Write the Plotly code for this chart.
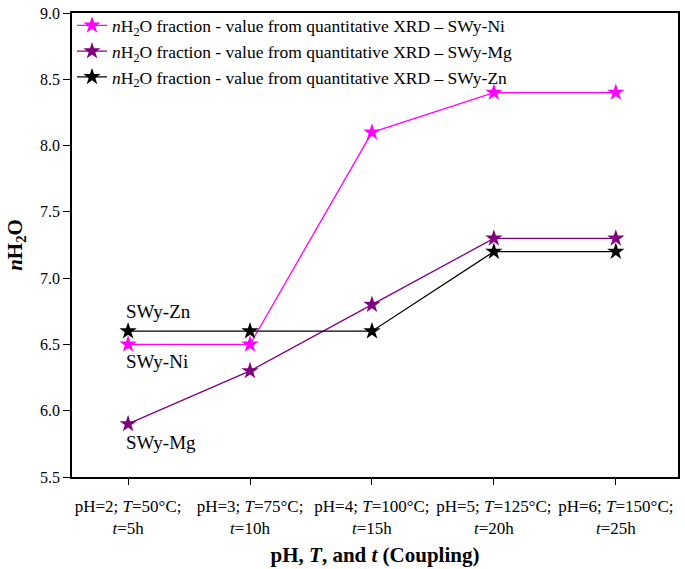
import plotly.graph_objects as go

categories = [
    "pH=2; <i>T</i>=50°C;<br><i>t</i>=5h",
    "pH=3; <i>T</i>=75°C;<br><i>t</i>=10h",
    "pH=4; <i>T</i>=100°C;<br><i>t</i>=15h",
    "pH=5; <i>T</i>=125°C;<br><i>t</i>=20h",
    "pH=6; <i>T</i>=150°C;<br><i>t</i>=25h",
]
ni_values = [6.5, 6.5, 8.1, 8.4, 8.4]
mg_values = [5.9, 6.3, 6.8, 7.3, 7.3]
zn_values = [6.6, 6.6, 6.6, 7.2, 7.2]

series = [
    ("<i>n</i>H<sub>2</sub>O fraction - value from quantitative XRD – SWy-Ni", ni_values, "#FF00FF"),
    ("<i>n</i>H<sub>2</sub>O fraction - value from quantitative XRD – SWy-Mg", mg_values, "#800080"),
    ("<i>n</i>H<sub>2</sub>O fraction - value from quantitative XRD – SWy-Zn", zn_values, "#000000"),
]

FONT = "Liberation Serif"

fig = go.Figure()
for name, vals, color in series:
    fig.add_trace(go.Scatter(
        x=list(range(len(categories))), y=vals,
        mode="lines+markers",
        name=name,
        line=dict(color=color, width=1.3),
        marker=dict(symbol="star", size=13, color=color),
    ))

# etiquetas de serie junto a la primera categoría
for text, y in [("SWy-Zn", 6.75), ("SWy-Ni", 6.37), ("SWy-Mg", 5.76)]:
    fig.add_annotation(x=0, y=y, text=text, showarrow=False, xanchor="left",
                       xshift=-4, font=dict(size=19, color="black", family=FONT))

fig.update_layout(
    width=685, height=569,
    margin=dict(l=72, r=5, t=8, b=92),
    plot_bgcolor="white", paper_bgcolor="white",
    font=dict(family=FONT, size=15, color="black"),
    showlegend=True,
    legend=dict(x=0.0, y=1.012, xanchor="left", yanchor="top",
                bgcolor="rgba(0,0,0,0)", font=dict(size=17.5, family=FONT, color="black"),
                itemsizing="trace", tracegroupgap=0),
    xaxis=dict(
        range=[-0.46, 4.51],
        tickmode="array", tickvals=list(range(len(categories))), ticktext=categories,
        ticks="outside", ticklen=6, tickcolor="black", ticklabelstandoff=7,
        showline=True, linecolor="black", linewidth=1.5, mirror=True,
        showgrid=False, zeroline=False,
        tickfont=dict(size=17, family=FONT, color="black"),
        title=dict(text="<b>pH, <i>T</i>, and <i>t</i> (Coupling)</b>",
                   font=dict(size=21, family=FONT, color="black"), standoff=10),
    ),
    yaxis=dict(
        range=[5.5, 9.0], dtick=0.5, tickformat=".1f",
        ticks="outside", ticklen=7, tickcolor="black",
        showline=True, linecolor="black", linewidth=1.5, mirror=True,
        showgrid=False, zeroline=False, ticklabeloverflow="allow",
        tickfont=dict(size=16, family=FONT, color="black"),
        title=dict(text="<b><i>n</i>H<sub>2</sub>O</b>",
                   font=dict(size=21, family=FONT, color="black"), standoff=12),
    ),
)

# quitar el margen por defecto del <body> para que la figura ocupe toda la ventana
fig.write_html("out.html", config={"displayModeBar": False},
               post_script="document.body.style.margin='0';")
